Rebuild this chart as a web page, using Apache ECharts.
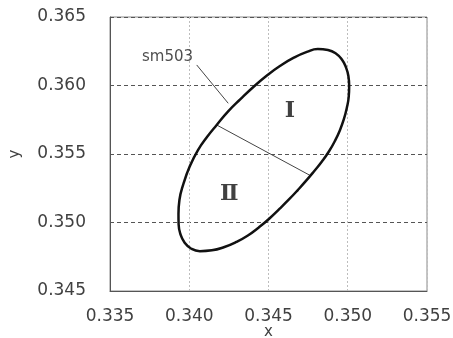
<!DOCTYPE html>
<html>
<head>
<meta charset="utf-8">
<script src="https://cdn.jsdelivr.net/npm/echarts@6/dist/echarts.min.js"></script>
<style>
  html, body { margin: 0; padding: 0; background: #fff; }
  #chart { width: 453px; height: 338px; }
</style>
</head>
<body>
<div id="chart"></div>
<script>
  // boundary of the sm503 region (clockwise from the leftmost point;
  // the last two points repeat the first two so the smoothed curve closes cleanly)
  const ellipseX = [0.33932, 0.33938, 0.33963, 0.34004, 0.34055, 0.34112, 0.34173, 0.34244, 0.34323, 0.34408,
                    0.34490, 0.34572, 0.34657, 0.34742, 0.34811, 0.34875, 0.34925, 0.34963, 0.34988, 0.35004,
                    0.35009, 0.35006, 0.34994, 0.34975, 0.34950, 0.34919, 0.34881, 0.34837, 0.34789, 0.34739,
                    0.34685, 0.34629, 0.34569, 0.34506, 0.34439, 0.34370, 0.34298, 0.34222, 0.34143, 0.34067,
                    0.34011, 0.33970, 0.33944, 0.33933, 0.33932, 0.33938];
  const ellipseY = [0.35062, 0.35164, 0.35281, 0.35412, 0.35529, 0.35624, 0.35712, 0.35810, 0.35901, 0.35993,
                    0.36073, 0.36142, 0.36201, 0.36245, 0.36266, 0.36259, 0.36234, 0.36190, 0.36135, 0.36069,
                    0.35996, 0.35916, 0.35836, 0.35752, 0.35672, 0.35595, 0.35518, 0.35445, 0.35376, 0.35307,
                    0.35237, 0.35168, 0.35099, 0.35029, 0.34964, 0.34905, 0.34858, 0.34821, 0.34797, 0.34791,
                    0.34810, 0.34854, 0.34916, 0.34985, 0.35062, 0.35164];
  // line splitting region I and II
  const dividerX = [0.34173, 0.34765];
  const dividerY = [0.35712, 0.35342];
  // leader line for the label
  const leaderX = [0.34047, 0.34246];
  const leaderY = [0.36150, 0.35870];
  // text labels
  const labelNames = ['sm503', 'Ⅰ', 'Ⅱ'];
  const labelX = [0.33863, 0.34635, 0.34252];
  const labelY = [0.36210, 0.35809, 0.35206];

  const zip = (xs, ys) => xs.map((x, i) => [x, ys[i]]);

  const axisText = { color: '#404040', fontSize: 17, fontFamily: 'DejaVu Sans' };

  const chart = echarts.init(document.getElementById('chart'));
  chart.setOption({
    animation: false,
    grid: {
      left: 110, right: 26, top: 17, bottom: 47,
      outerBoundsMode: 'none',
      show: true, borderColor: '#8a8a8a', borderWidth: 1
    },
    xAxis: {
      type: 'value', min: 0.335, max: 0.355, interval: 0.005,
      name: 'x', nameLocation: 'middle', nameGap: 34, nameMoveOverlap: false,
      nameTextStyle: { color: '#404040', fontSize: 15, fontFamily: 'DejaVu Sans' },
      axisLine: { show: true, lineStyle: { color: '#555', width: 1 } },
      axisTick: { show: false },
      axisLabel: Object.assign({ margin: 17, formatter: v => v.toFixed(3) }, axisText),
      splitLine: { show: true, lineStyle: { color: '#bdbdbd', type: [2, 2], width: 1 } }
    },
    yAxis: {
      type: 'value', min: 0.345, max: 0.365, interval: 0.005,
      name: 'y', nameLocation: 'middle', nameGap: 87, nameRotate: 90, nameMoveOverlap: false,
      nameTextStyle: { color: '#404040', fontSize: 15, fontFamily: 'DejaVu Sans' },
      axisLine: { show: true, lineStyle: { color: '#555', width: 1 } },
      axisTick: { show: false },
      axisLabel: Object.assign({ margin: 24, formatter: v => v.toFixed(3) }, axisText),
      splitLine: { show: true, lineStyle: { color: '#555', type: [4, 3], width: 1 } }
    },
    series: [
      {
        type: 'line', data: zip(ellipseX, ellipseY), smooth: 0.5,
        showSymbol: false, lineStyle: { color: '#111', width: 2.5 }, z: 5
      },
      {
        type: 'line', data: zip(dividerX, dividerY),
        showSymbol: false, lineStyle: { color: '#444', width: 1 }
      },
      {
        type: 'line', data: zip(leaderX, leaderY),
        showSymbol: false, lineStyle: { color: '#444', width: 1 }
      },
      {
        type: 'scatter', symbolSize: 0,
        data: labelNames.map((n, i) => ({
          value: [labelX[i], labelY[i]],
          label: i === 0
            ? { show: true, position: 'inside', formatter: n, color: '#222', fontSize: 15, fontFamily: 'DejaVu Sans' }
            : { show: true, position: 'inside', formatter: n, color: '#111', fontSize: 22, fontWeight: 'bold', fontFamily: 'DejaVu Serif' }
        }))
      }
    ]
  });
</script>
</body>
</html>
